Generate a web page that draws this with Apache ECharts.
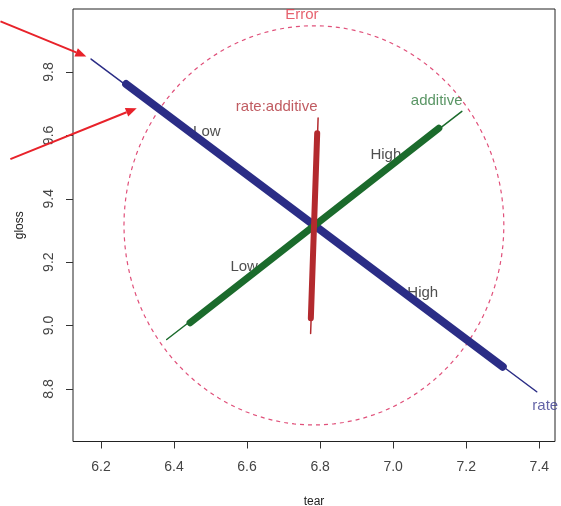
<!DOCTYPE html>
<html>
<head>
<meta charset="utf-8">
<style>html,body{margin:0;padding:0;background:#fff}#c{width:561px;height:506px}</style>
<script src="https://cdn.jsdelivr.net/npm/echarts@6/dist/echarts.min.js"></script>
</head>
<body>
<div id="c"></div>
<script>
// ---- data ----
const xTicks = [6.2, 6.4, 6.6, 6.8, 7.0, 7.2, 7.4];
const yTicks = [8.8, 9.0, 9.2, 9.4, 9.6, 9.8];
const xRange = [6.1235, 7.443];
const yRange = [8.634, 9.999];

const rateThin = [[6.173, 9.841], [7.393, 8.791]];
const rateThick = [[6.269, 9.762], [7.300, 8.870]];
const additiveThin = [[6.380, 8.956], [7.188, 9.676]];
const additiveThick = [[6.444, 9.009], [7.125, 9.623]];
const interThin = [[6.774, 8.975], [6.7945, 9.655]];
const interThick = [[6.7746, 9.023], [6.792, 9.607]];

const ellipseCenter = [6.783, 9.3162];
const ellipseRadii = [0.520, 0.630];

const levelLabels = [
  {name: 'Low', value: [6.490, 9.612]},
  {name: 'High', value: [7.081, 9.104]},
  {name: 'Low', value: [6.592, 9.186]},
  {name: 'High', value: [6.980, 9.539]}
];
const errorLabel = [{name: 'Error', value: [6.750, 9.981]}];
const interLabel = [{name: 'rate:additive', value: [6.681, 9.689]}];
const additiveLabel = [{name: 'additive', value: [7.119, 9.709]}];
const rateLabel = [{name: 'rate', value: [7.381, 8.746]}];

const arrows = [
  [[5.925, 9.960], [6.160, 9.849]],
  [[5.952, 9.525], [6.298, 9.686]]
];

// ellipse outline from its centre and radii
const ellipsePts = [];
for (let i = 0; i <= 120; i++) {
  const t = i / 120 * 2 * Math.PI;
  ellipsePts.push([ellipseCenter[0] + ellipseRadii[0] * Math.cos(t),
                   ellipseCenter[1] + ellipseRadii[1] * Math.sin(t)]);
}

const FONT = 'Liberation Sans, Arial, sans-serif';
const BLUE = '#2b2d86', GREEN = '#1b6b2c', RED = '#b32a2e';

function seg(data, color, width, z) {
  return {type: 'line', data: data, showSymbol: false, symbol: 'none', z: z,
    lineStyle: {color: color, width: width, cap: 'round'}, silent: true, clip: false};
}
function txt(data, color, align, z) {
  return {type: 'scatter', data: data, symbol: 'circle', symbolSize: 1, z: z || 1, silent: true, clip: false,
    itemStyle: {color: 'rgba(0,0,0,0)'},
    label: {show: true, position: 'inside', formatter: '{b}', color: color,
      fontFamily: FONT, fontSize: 15, align: align || 'center', verticalAlign: 'middle'}};
}

const chart = echarts.init(document.getElementById('c'));
chart.setOption({
  animation: false,
  backgroundColor: '#fff',
  grid: {left: 73, right: 6, top: 9, bottom: 64.5, show: true, borderColor: '#222', borderWidth: 1,
    backgroundColor: 'transparent', containLabel: false, outerBoundsMode: 'none'},
  xAxis: {
    type: 'value', min: xRange[0], max: xRange[1],
    name: 'tear', nameLocation: 'middle', nameGap: 54,
    nameTextStyle: {fontFamily: FONT, fontSize: 12, color: '#222'},
    axisLine: {show: false}, splitLine: {show: false},
    axisTick: {show: true, inside: false, length: 7, customValues: xTicks, lineStyle: {color: '#333'}},
    axisLabel: {customValues: xTicks, fontFamily: FONT, fontSize: 14, color: '#444', margin: 19,
      formatter: v => v.toFixed(1)}
  },
  yAxis: {
    type: 'value', min: yRange[0], max: yRange[1],
    name: 'gloss', nameLocation: 'middle', nameGap: 47,
    nameTextStyle: {fontFamily: FONT, fontSize: 12, color: '#222'},
    axisLine: {show: false}, splitLine: {show: false},
    axisTick: {show: true, inside: false, length: 7, customValues: yTicks, lineStyle: {color: '#333'}},
    axisLabel: {customValues: yTicks, rotate: 90, fontFamily: FONT, fontSize: 14, color: '#444', margin: 17,
      formatter: v => v.toFixed(1)}
  },
  series: [
    txt(levelLabels, '#222', 'center', 1),
    {type: 'line', data: ellipsePts, showSymbol: false, symbol: 'none', z: 2, silent: true,
      lineStyle: {color: '#e0507a', width: 1.2, type: [4, 4]}},
    seg(rateThin, BLUE, 1.5, 3),
    seg(rateThick, BLUE, 8, 3),
    seg(additiveThin, GREEN, 1.5, 4),
    seg(additiveThick, GREEN, 7, 4),
    seg(interThin, RED, 1.5, 5),
    seg(interThick, RED, 6, 5),
    txt(errorLabel, '#e03a48', 'center', 6),
    txt(interLabel, '#b0323a', 'center', 6),
    txt(additiveLabel, '#2f7a3d', 'center', 6),
    txt(rateLabel, '#3c3c90', 'left', 6)
  ]
});

// red annotation arrows, placed through the chart's own scales
const graphics = [];
arrows.forEach(a => {
  const p0 = chart.convertToPixel({gridIndex: 0}, a[0]);
  const p1 = chart.convertToPixel({gridIndex: 0}, a[1]);
  const ang = Math.atan2(p1[1] - p0[1], p1[0] - p0[0]);
  const L = 11, W = 4.5;
  const bx = p1[0] - L * Math.cos(ang), by = p1[1] - L * Math.sin(ang);
  graphics.push({type: 'line', z: 100, silent: true,
    shape: {x1: p0[0], y1: p0[1], x2: bx, y2: by},
    style: {stroke: '#e8222a', lineWidth: 2}});
  graphics.push({type: 'polygon', z: 100, silent: true,
    shape: {points: [[p1[0], p1[1]],
      [bx + W * Math.sin(ang), by - W * Math.cos(ang)],
      [bx - W * Math.sin(ang), by + W * Math.cos(ang)]]},
    style: {fill: '#e8222a'}});
});
chart.setOption({graphic: graphics});
</script>
</body>
</html>
